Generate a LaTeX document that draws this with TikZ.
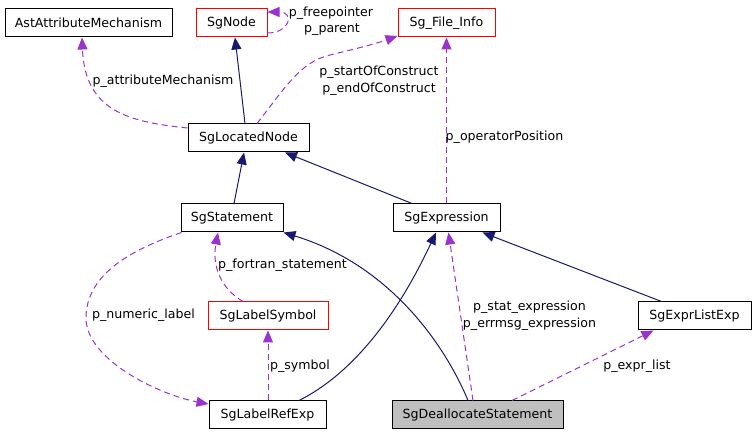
\documentclass[tikz,border=0pt]{standalone}
\usepackage{fontspec}
\setmainfont{DejaVu Sans}
\usetikzlibrary{arrows.meta}
\definecolor{edgeblue}{HTML}{191970}
\definecolor{edgepurple}{HTML}{9A32CD}
\definecolor{boxred}{HTML}{FF0000}
\definecolor{boxgray}{HTML}{BFBFBF}
\tikzset{
  box/.style={draw=black, line width=1pt, minimum height=28pt, inner sep=0pt, font=\fontsize{12.6}{17}\selectfont},
  redbox/.style={box, draw=boxred},
  graybox/.style={box, fill=boxgray},
  lbl/.style={inner sep=0pt, font=\fontsize{12.6}{17}\selectfont, align=center},
  inherit/.style={draw=edgeblue, line width=1pt, -{Triangle[length=12pt,width=10pt]}, fill=none},
  usage/.style={draw=edgepurple, line width=1pt, dash pattern=on 6pt off 4pt, -{Triangle[length=12pt,width=10pt,fill=edgepurple]}},
}
\begin{document}
\begin{tikzpicture}[x=1pt,y=-1pt]
\useasboundingbox (0,0) rectangle (756,435);
% nodes
\node[box, minimum width=167pt] (ast) at (88.5,23) {AstAttributeMechanism};
\node[redbox, minimum width=71pt] (sgnode) at (231.5,23) {SgNode};
\node[redbox, minimum width=97pt] (finfo) at (446.5,23) {Sg\_File\_Info};
\node[box, minimum width=121pt] (ln) at (248.5,138) {SgLocatedNode};
\node[box, minimum width=102pt] (stmt) at (232,218) {SgStatement};
\node[box, minimum width=107pt] (expr) at (446.5,218) {SgExpression};
\node[redbox, minimum width=120pt] (lsym) at (268,316) {SgLabelSymbol};
\node[box, minimum width=113pt] (elist) at (694.5,316) {SgExprListExp};
\node[box, minimum width=117pt] (lref) at (267.5,415) {SgLabelRefExp};
\node[graybox, minimum width=171pt] (dealloc) at (477.5,415) {SgDeallocateStatement};
% inheritance
\draw[inherit] ([xshift=-3.5pt]ln.north) -- ([xshift=3.5pt]sgnode.south);
\draw[inherit] ([xshift=2pt]stmt.north) -- ([xshift=-4.5pt]ln.south);
\draw[inherit] ([xshift=-34.5pt]expr.north) -- ([xshift=36.5pt]ln.south);
\draw[inherit] ([xshift=-33pt]elist.north) -- ([xshift=36pt]expr.south);
\draw[inherit] ([xshift=31.5pt]lref.north) .. controls (350,375) and (395,320) .. ([xshift=-10.5pt]expr.south);
\draw[inherit] ([xshift=-9.5pt]dealloc.north) .. controls (445,345) and (390,265) .. (stmt.south east);
% usage
\draw[usage] ([yshift=10pt]ln.west) .. controls (130,122) and (85,112) .. ([xshift=-6.5pt]ast.south);
\draw[usage] ([yshift=-10pt]sgnode.east) .. controls (290,33) and (295,12) .. ([yshift=11pt]sgnode.east);
\draw[usage] ([xshift=8.5pt]ln.north) .. controls (285,88) and (300,62) .. (330,55) .. controls (355,49) and (375,44) .. ([yshift=-13pt]finfo.west);
\draw[usage] (expr.north) -- (finfo.south);
\draw[usage] ([xshift=-25pt]lsym.north) .. controls (220,288) and (212,265) .. ([xshift=-14pt]stmt.south);
\draw[usage] ([xshift=1pt]stmt.south west) .. controls (130,250) and (86,275) .. (86,318) .. controls (86,360) and (160,395) .. ([yshift=11pt]lref.west);
\draw[usage] ([xshift=0.5pt]lref.north) -- (lsym.south);
\draw[usage] ([xshift=-4.5pt]dealloc.north) -- ([xshift=2pt]expr.south);
\draw[usage] ([xshift=34.5pt]dealloc.north) -- ([xshift=-41pt]elist.south);
% labels
\node[lbl] (l1) at (163,81) {p\_attributeMechanism};
\node[lbl] (l2) at (331,13) {p\_freepointer};
\node[lbl] (l3) at (332,30) {p\_parent};
\node[lbl] (l4) at (379,80.5) {p\_startOfConstruct\\p\_endOfConstruct};
\node[lbl] (l5) at (504.5,137) {p\_operatorPosition};
\node[lbl] (l6) at (282.5,265) {p\_fortran\_statement};
\node[lbl] (l7) at (143.5,315) {p\_numeric\_label};
\node[lbl] (l8) at (300,366) {p\_symbol};
\node[lbl] (l9) at (529.5,315.5) {p\_stat\_expression\\p\_errmsg\_expression};
\node[lbl] (l10) at (637,366) {p\_expr\_list};
\end{tikzpicture}
\end{document}
